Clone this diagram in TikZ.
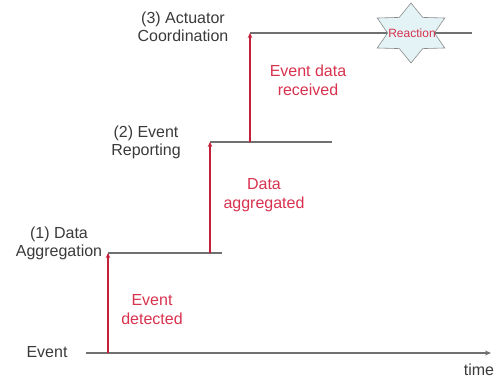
\documentclass[tikz,border=0pt]{standalone}
\usepackage{fontspec}
\setmainfont{Liberation Sans}
\usetikzlibrary{arrows.meta}
\definecolor{txtgray}{HTML}{3A3A3A}
\definecolor{linegray}{HTML}{707070}
\definecolor{redtxt}{HTML}{D8324E}
\definecolor{redarrow}{HTML}{C4203C}
\definecolor{starfill}{HTML}{E3F3F6}
\definecolor{starline}{HTML}{8A8A8A}
\tikzset{
  levellabel/.style={text=txtgray, align=center, inner sep=0pt, font=\fontsize{16}{18}\selectfont},
  redlabel/.style={text=redtxt, align=center, inner sep=0pt, font=\fontsize{16}{19}\selectfont},
  levelline/.style={draw=linegray, line width=1.4pt},
  uparrow/.style={draw=redarrow, line width=1.6pt, -{Stealth[length=5pt,width=4.5pt]}},
  timeaxis/.style={draw=linegray, line width=1.6pt, -{Stealth[length=6pt,width=5pt]}},
  starshape/.style={draw=starline, fill=starfill, line width=0.6pt},
}
\begin{document}
\begin{tikzpicture}[x=1pt,y=-1pt]
\useasboundingbox (0,0) rectangle (496,385);
% coordinates
\coordinate (ev0) at (86,353);
\coordinate (axend) at (491,353);
\coordinate (a1b) at (108,353);
\coordinate (a1t) at (108,253);
\coordinate (l1e) at (222,253);
\coordinate (a2b) at (210,253);
\coordinate (a2t) at (210,142);
\coordinate (l2e) at (332,142);
\coordinate (a3b) at (250,142);
\coordinate (a3t) at (250,33);
\coordinate (l3e) at (472,33);
% lines
\draw[timeaxis] (ev0) -- (axend);
\draw[levelline] (a1t) -- (l1e);
\draw[levelline] (a2t) -- (l2e);
\draw[levelline] (a3t) -- (l3e);
% arrows
\draw[uparrow] (a1b) -- (a1t);
\draw[uparrow] (a2b) -- (a2t);
\draw[uparrow] (a3b) -- (a3t);
% star
\begin{scope}[shift={(411,33)}, xscale=1.3]
\draw[starshape] (90:30) -- (60:18) -- (30:30) -- (0:18) -- (-30:30) -- (-60:18)
  -- (-90:30) -- (-120:18) -- (-150:30) -- (180:18) -- (150:30) -- (120:18) -- cycle;
\end{scope}
\node[text=redtxt, inner sep=0pt, font=\fontsize{12}{14}\selectfont] (reaction) at (412,33) {Reaction};
% labels
\node[levellabel] (ev) at (47,352) {Event};
\node[levellabel] (time) at (479,370) {time};
\node[levellabel] (lab1) at (59,243) {(1) Data\\Aggregation};
\node[levellabel] (lab2) at (146,142) {(2) Event\\Reporting};
\node[levellabel] (lab3) at (183,27) {(3) Actuator\\Coordination};
\node[redlabel] (r1) at (152,310) {Event\\detected};
\node[redlabel] (r2) at (264,195) {Data\\aggregated};
\node[redlabel] (r3) at (308,80) {Event data\\received};
\end{tikzpicture}
\end{document}
